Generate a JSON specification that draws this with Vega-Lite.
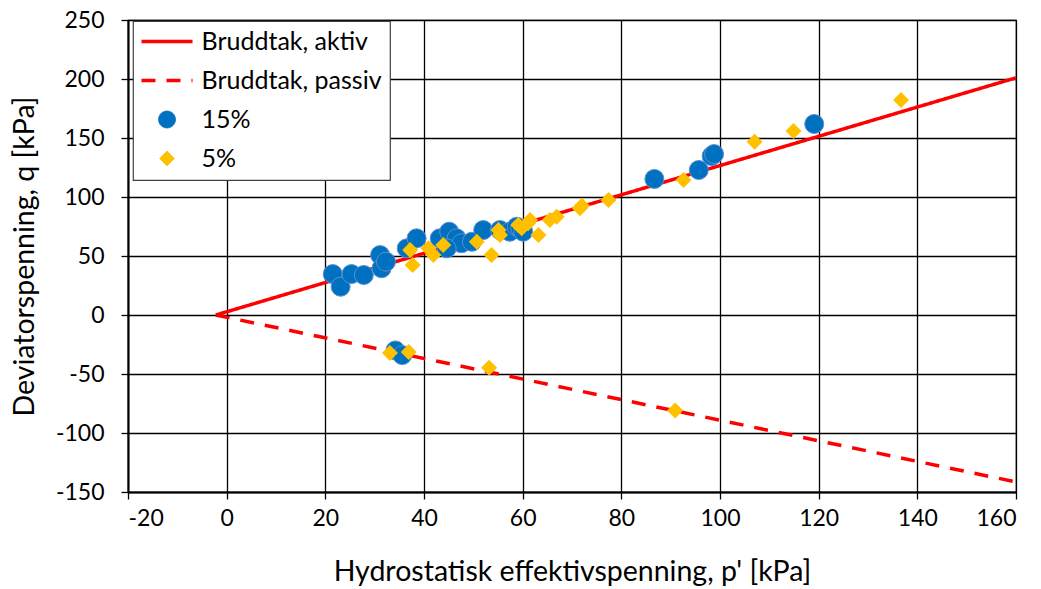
{
  "$schema": "https://vega.github.io/schema/vega-lite/v6.json",
  "width": 888,
  "height": 472,
  "autosize": {"type": "none"},
  "padding": {"left": 128, "top": 20, "right": 25, "bottom": 97},
  "background": "white",
  "config": {
    "font": "Lato",
    "view": {"stroke": "black", "strokeWidth": 1.2},
    "axis": {
      "grid": true,
      "gridColor": "black",
      "gridWidth": 1.3,
      "gridOpacity": 1,
      "domainColor": "black",
      "domainWidth": 2,
      "tickColor": "black",
      "tickWidth": 1.3,
      "tickSize": 7,
      "labelColor": "black",
      "labelFontSize": 23,
      "labelFont": "Lato",
      "labelExpr": "'' + datum.value",
      "titleColor": "black",
      "titleFont": "Lato",
      "titleFontSize": 28.5,
      "titleFontWeight": "normal"
    },
    "legend": {
      "title": null,
      "orient": "none",
      "legendX": 5,
      "legendY": 1,
      "fillColor": "white",
      "strokeColor": "#404040",
      "strokeWidth": 1.2,
      "padding": 8,
      "symbolSize": 484,
      "symbolStrokeWidth": 1.5,
      "symbolOffset": 13.5,
      "labelOffset": 22,
      "rowPadding": 13,
      "labelFont": "Lato",
      "labelFontSize": 25,
      "labelColor": "black",
      "labelLimit": 400
    }
  },
  "data": {
    "values": [
      {"serie": "Bruddtak, aktiv", "p": -2.2, "q": 0},
      {"serie": "Bruddtak, aktiv", "p": 160, "q": 201},
      {"serie": "Bruddtak, passiv", "p": -2.2, "q": 0},
      {"serie": "Bruddtak, passiv", "p": 160, "q": -141.5},

      {"serie": "15%", "p": 21.5, "q": 34.7},
      {"serie": "15%", "p": 23.1, "q": 24},
      {"serie": "15%", "p": 25.3, "q": 34.7},
      {"serie": "15%", "p": 27.8, "q": 33.9},
      {"serie": "15%", "p": 31.1, "q": 50.8},
      {"serie": "15%", "p": 31.4, "q": 39.6},
      {"serie": "15%", "p": 32.3, "q": 45.2},
      {"serie": "15%", "p": 36.5, "q": 56.5},
      {"serie": "15%", "p": 38.5, "q": 65},
      {"serie": "15%", "p": 43.2, "q": 65},
      {"serie": "15%", "p": 45.1, "q": 70.6},
      {"serie": "15%", "p": 46.6, "q": 65},
      {"serie": "15%", "p": 47.6, "q": 60.8},
      {"serie": "15%", "p": 44.6, "q": 56.5},
      {"serie": "15%", "p": 49.7, "q": 62.1},
      {"serie": "15%", "p": 52, "q": 72},
      {"serie": "15%", "p": 55.4, "q": 72},
      {"serie": "15%", "p": 57.4, "q": 70.6},
      {"serie": "15%", "p": 58.8, "q": 74.8},
      {"serie": "15%", "p": 59.5, "q": 73.5},
      {"serie": "15%", "p": 60.1, "q": 70.6},
      {"serie": "15%", "p": 86.7, "q": 115.3},
      {"serie": "15%", "p": 95.7, "q": 122.9},
      {"serie": "15%", "p": 98.3, "q": 134.7},
      {"serie": "15%", "p": 98.8, "q": 136.4},
      {"serie": "15%", "p": 119.1, "q": 161.9},
      {"serie": "15%", "p": 34.2, "q": -30},
      {"serie": "15%", "p": 35.6, "q": -34},

      {"serie": "5%", "p": 37.2, "q": 55},
      {"serie": "5%", "p": 37.7, "q": 42.4},
      {"serie": "5%", "p": 40.9, "q": 56.5},
      {"serie": "5%", "p": 41.9, "q": 50.8},
      {"serie": "5%", "p": 43.9, "q": 59.3},
      {"serie": "5%", "p": 50.7, "q": 62.1},
      {"serie": "5%", "p": 53.7, "q": 50.8},
      {"serie": "5%", "p": 55.1, "q": 72},
      {"serie": "5%", "p": 55.4, "q": 67.8},
      {"serie": "5%", "p": 59.1, "q": 76.3},
      {"serie": "5%", "p": 59.8, "q": 73.5},
      {"serie": "5%", "p": 61.1, "q": 77.7},
      {"serie": "5%", "p": 61.5, "q": 80.5},
      {"serie": "5%", "p": 63.2, "q": 67.8},
      {"serie": "5%", "p": 65.5, "q": 80.5},
      {"serie": "5%", "p": 66.9, "q": 83.3},
      {"serie": "5%", "p": 71.6, "q": 90.4},
      {"serie": "5%", "p": 72, "q": 92.5},
      {"serie": "5%", "p": 77.4, "q": 97.5},
      {"serie": "5%", "p": 92.6, "q": 114.4},
      {"serie": "5%", "p": 107, "q": 146.9},
      {"serie": "5%", "p": 114.9, "q": 155.9},
      {"serie": "5%", "p": 136.7, "q": 182.2},
      {"serie": "5%", "p": 33.1, "q": -32.2},
      {"serie": "5%", "p": 36.9, "q": -31.4},
      {"serie": "5%", "p": 53.2, "q": -44.6},
      {"serie": "5%", "p": 90.9, "q": -81}
    ]
  },
  "encoding": {
    "x": {
      "field": "p",
      "type": "quantitative",
      "scale": {"domain": [-20, 160], "nice": false, "zero": false},
      "axis": {
        "values": [-20, 0, 20, 40, 60, 80, 100, 120, 140, 160],
        "title": "Hydrostatisk effektivspenning, p' [kPa]",
        "labelPadding": 8,
        "titlePadding": 27
      }
    },
    "y": {
      "field": "q",
      "type": "quantitative",
      "scale": {"domain": [-150, 250], "nice": false, "zero": false},
      "axis": {
        "values": [-150, -100, -50, 0, 50, 100, 150, 200, 250],
        "title": "Deviatorspenning, q [kPa]",
        "labelPadding": 17,
        "titlePadding": 16
      }
    },
    "color": {
      "field": "serie",
      "type": "nominal",
      "scale": {
        "domain": ["Bruddtak, aktiv", "Bruddtak, passiv", "15%", "5%"],
        "range": ["#FF0000", "#FF0000", "#0070C0", "#FFC000"]
      },
      "legend": {
        "encode": {
          "symbols": {
            "update": {
              "shape": {"signal": "datum.value == '15%' ? 'M-0.77,0A0.77,0.77,0,1,1,0.77,0A0.77,0.77,0,1,1,-0.77,0Z' : datum.value == '5%' ? 'M-0.68,0L0,-0.68L0.68,0L0,0.68Z' : 'M-2.32,0H2.32'"},
              "fill": {"signal": "datum.value == '15%' ? '#0070C0' : datum.value == '5%' ? '#FFC000' : 'transparent'"},
              "stroke": {"signal": "datum.value == '15%' ? '#5B8FD0' : datum.value == '5%' ? '#FFC000' : '#FF0000'"},
              "strokeWidth": {"signal": "datum.value == '15%' || datum.value == '5%' ? 0.8 : 3.5"},
              "strokeDash": {"signal": "datum.value == 'Bruddtak, passiv' ? [14, 11] : [1, 0]"},
              "opacity": {"value": 1},
              "fillOpacity": {"value": 1},
              "strokeOpacity": {"value": 1}
            }
          }
        }
      }
    }
  },
  "layer": [
    {
      "transform": [{"filter": "indexof(['Bruddtak, aktiv', 'Bruddtak, passiv'], datum.serie) >= 0"}],
      "mark": {"type": "line", "strokeWidth": 3.5, "clip": true},
      "encoding": {
        "strokeDash": {
          "field": "serie",
          "type": "nominal",
          "scale": {
            "domain": ["Bruddtak, aktiv", "Bruddtak, passiv"],
            "range": [[1, 0], [14, 11]]
          },
          "legend": null
        }
      }
    },
    {
      "transform": [{"filter": "datum.serie == '15%'"}],
      "mark": {"type": "point", "shape": "circle", "filled": true, "size": 361, "opacity": 1, "stroke": "#5B8FD0", "strokeWidth": 1}
    },
    {
      "transform": [{"filter": "datum.serie == '5%'"}],
      "mark": {"type": "point", "shape": "diamond", "filled": true, "size": 256, "opacity": 1}
    }
  ]
}
